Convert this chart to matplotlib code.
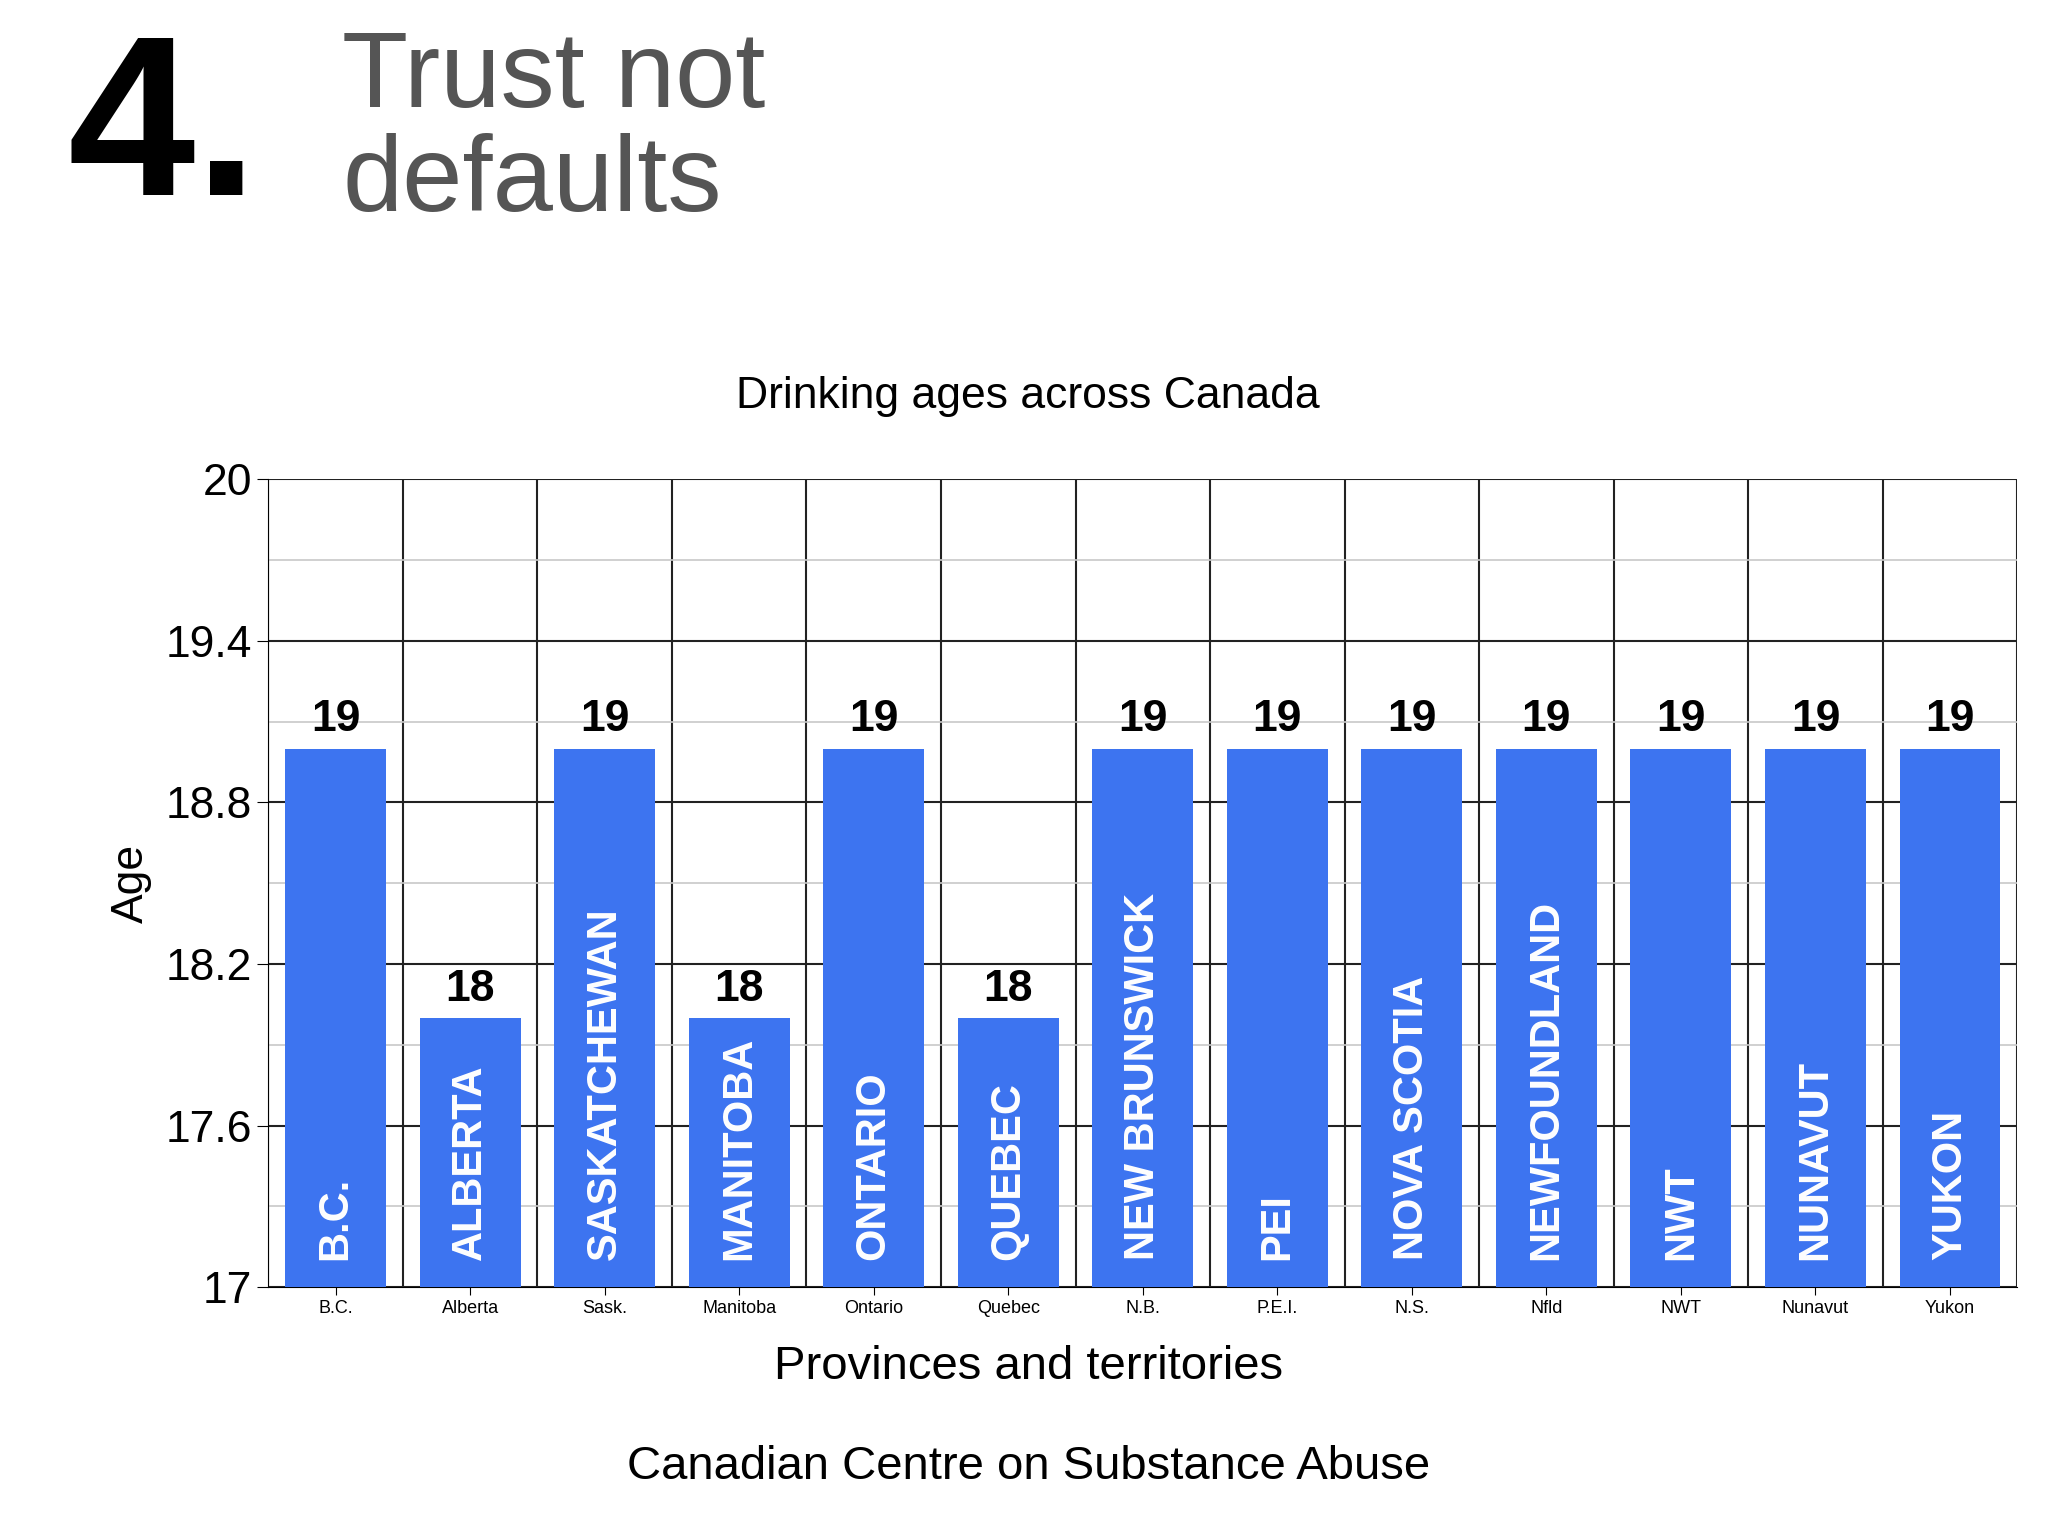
import matplotlib
matplotlib.use("Agg")
import matplotlib.pyplot as plt
import numpy as np

plt.rcParams['font.family'] = ['Liberation Sans', 'DejaVu Sans']

codes = ["B.C.", "Alberta", "Sask.", "Manitoba", "Ontario", "Quebec", "N.B.", "P.E.I.", "N.S.", "Nfld", "NWT", "Nunavut", "Yukon"]
names = ["B.C.", "ALBERTA", "SASKATCHEWAN", "MANITOBA", "ONTARIO", "QUEBEC", "NEW BRUNSWICK", "PEI", "NOVA SCOTIA", "NEWFOUNDLAND", "NWT", "NUNAVUT", "YUKON"]
ages = [19, 18, 19, 18, 19, 18, 19, 19, 19, 19, 19, 19, 19]
yticks = [17, 17.6, 18.2, 18.8, 19.4, 20]

fig = plt.figure(figsize=(20.48, 15.36), dpi=100)
fig.text(0.033, 0.912, "4.", fontsize=165, fontweight="bold", color="black", va="center", ha="left")
fig.text(0.167, 0.915, "Trust not\ndefaults", fontsize=78, color="#555555", va="center", ha="left", linespacing=1.05)

ax = fig.add_axes([0.131, 0.162, 0.854, 0.526])
x = np.arange(len(codes))
ax.bar(x, [a - 17 for a in ages], bottom=17, width=0.75, color="#3d74f0", zorder=3)
ax.set_xlim(-0.5, len(codes) - 0.5)
ax.set_ylim(17, 20)
ax.set_yticks(yticks)
ax.set_yticklabels(["17", "17.6", "18.2", "18.8", "19.4", "20"], fontsize=32)
ax.set_yticks([17.3, 17.9, 18.5, 19.1, 19.7], minor=True)
ax.grid(axis="y", which="major", color="#222222", lw=1.5, zorder=1)
ax.grid(axis="y", which="minor", color="#c8c8c8", lw=1.2, zorder=1)
ax.tick_params(axis="y", which="minor", length=0)
ax.tick_params(axis="y", length=8)
for b in np.arange(-0.5, len(codes)):
    ax.axvline(b, color="#222222", lw=1.5, zorder=1)
ax.set_xticks(x)
ax.set_xticklabels(codes, fontsize=13)
ax.tick_params(axis="x", length=6)
for s in ["top", "right"]:
    ax.spines[s].set_visible(False)
for i, (a, n) in enumerate(zip(ages, names)):
    ax.text(i, a + 0.03, str(a), ha="center", va="bottom", fontsize=32, fontweight="bold")
    ax.text(i, 17.1, n, rotation=90, ha="center", va="bottom", fontsize=30, fontweight="bold", color="white", zorder=4)
ax.set_ylabel("Age", fontsize=32, labelpad=10)
fig.text(0.502, 0.11, "Provinces and territories", fontsize=34, ha="center", va="center")
fig.text(0.502, 0.742, "Drinking ages across Canada", fontsize=32, ha="center", va="center")
fig.text(0.502, 0.045, "Canadian Centre on Substance Abuse", fontsize=34, ha="center", va="center")
fig.savefig("out.png", dpi=100)
